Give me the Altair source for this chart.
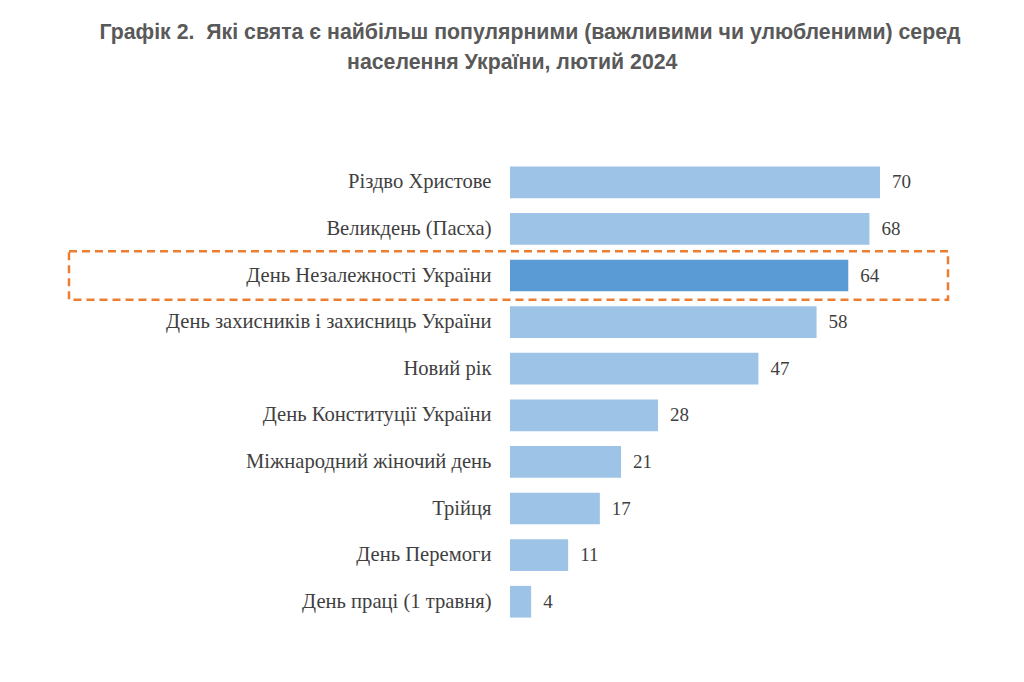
import altair as alt
import pandas as pd

holidays = [
    "Різдво Христове",
    "Великдень (Пасха)",
    "День Незалежності України",
    "День захисників і захисниць України",
    "Новий рік",
    "День Конституції України",
    "Міжнародний жіночий день",
    "Трійця",
    "День Перемоги",
    "День праці (1 травня)",
]
values = [70, 68, 64, 58, 47, 28, 21, 17, 11, 4]
highlighted = "День Незалежності України"

title_lines = [
    "Графік 2.\u00a0 Які свята є найбільш популярними (важливими чи улюбленими) серед",
    "населення України, лютий 2024" + "\u00a0" * 6 + "\u200b",
]

df = pd.DataFrame({"holiday": holidays, "value": values})

LIGHT = "#9DC3E6"
DARK = "#5B9BD5"
ORANGE = "#ED7D31"
TEXT = "#3F3F3F"
SERIF = "Liberation Serif"

y_enc = alt.Y(
    "holiday:N",
    sort=holidays,
    title=None,
    scale=alt.Scale(paddingInner=0.32, paddingOuter=0.16),
    axis=alt.Axis(
        domain=False,
        ticks=False,
        tickSize=0,
        labelPadding=19,
        labelFont=SERIF,
        labelFontSize=20.6,
        labelColor=TEXT,
        labelLimit=460,
    ),
)
x_enc = alt.X("value:Q", axis=None, scale=alt.Scale(domain=[0, 70], nice=False))

bars = alt.Chart(df).mark_bar().encode(
    y=y_enc,
    x=x_enc,
    color=alt.condition(
        alt.datum.holiday == highlighted, alt.value(DARK), alt.value(LIGHT)
    ),
)

labels = alt.Chart(df).mark_text(
    align="left", baseline="middle", dx=12, font=SERIF, fontSize=19, color=TEXT
).encode(y=y_enc, x=x_enc, text="value:Q")

box = (
    alt.Chart(df)
    .transform_filter(alt.datum.holiday == highlighted)
    .mark_bar(
        height=48.5,
        fillOpacity=0,
        stroke=ORANGE,
        strokeWidth=2.5,
        strokeDash=[8, 5],
    )
    .encode(y=y_enc, x=alt.value(-441), x2=alt.value(438))
)

chart = (
    alt.layer(bars, labels, box)
    .properties(
        width=370,
        height=466,
        autosize=alt.AutoSizeParams(type="none"),
        padding={"left": 502, "top": 151, "right": 136, "bottom": 49},
        view=alt.ViewBackground(strokeWidth=0),
        title=alt.TitleParams(
            text=title_lines,
            font="Liberation Sans",
            fontWeight="bold",
            fontSize=21.3,
            color="#595959",
            anchor="middle",
            frame="group",
            dx=-165,
            lineHeight=30,
            offset=86,
        ),
    )
    .configure(background="white")
    .configure_view(strokeWidth=0)
)

chart.save("out.html", embed_options={"renderer": "svg", "actions": False})
